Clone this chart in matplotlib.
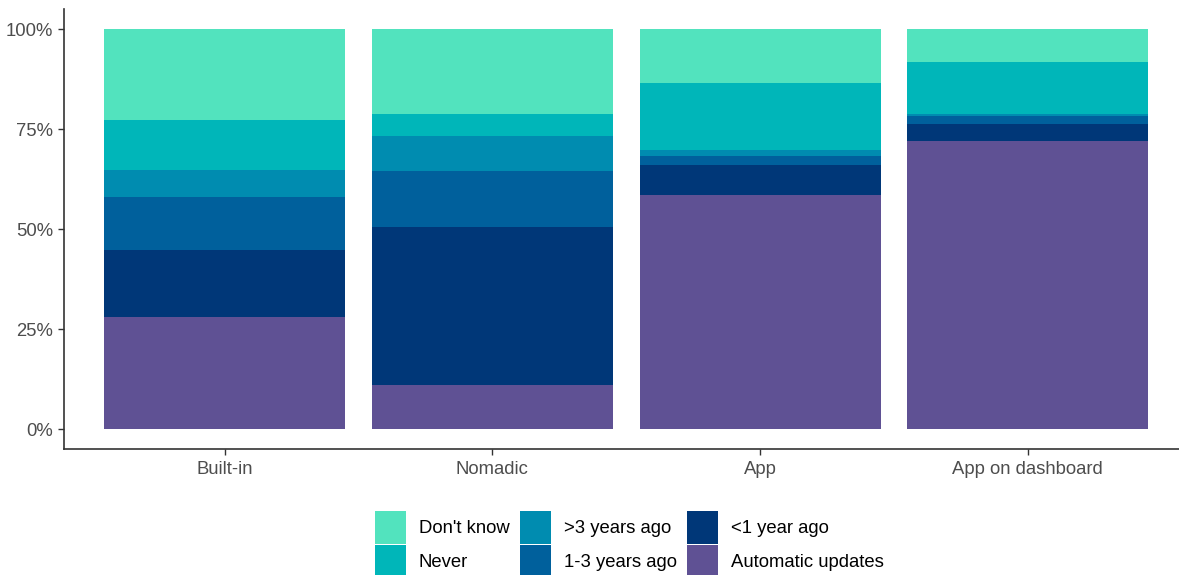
import matplotlib
matplotlib.use("Agg")
import matplotlib.pyplot as plt
from matplotlib.patches import Patch
import numpy as np

plt.rcParams["font.family"] = ["Liberation Sans", "DejaVu Sans"]

categories = ["Built-in", "Nomadic", "App", "App on dashboard"]
series_names = ["Automatic updates", "<1 year ago", "1-3 years ago", ">3 years ago", "Never", "Don't know"]
automatic = [28.0, 10.9, 58.5, 72.1]
lt1 = [16.9, 39.6, 7.6, 4.2]
y1_3 = [13.2, 14.1, 2.2, 1.9]
gt3 = [6.8, 8.7, 1.5, 0.7]
never = [12.5, 5.6, 16.7, 12.9]
dont_know = [22.6, 21.1, 13.5, 8.2]
colors = ["#5F5194", "#003778", "#00609C", "#008CB0", "#00B6B9", "#52E3BE"]
yticks = [0, 25, 50, 75, 100]
ytick_labels = ["0%", "25%", "50%", "75%", "100%"]

series = [automatic, lt1, y1_3, gt3, never, dont_know]

fig = plt.figure(figsize=(11.79, 5.75), dpi=100)
ax = fig.add_axes([64/1179, 1-449/575, 1-64/1179, (449-9.35)/575])

x = np.arange(1, len(categories)+1)
bottom = np.zeros(len(categories))
for name, vals, c in zip(series_names, series, colors):
    v = np.array(vals)
    ax.bar(x, v, width=0.9, bottom=bottom, color=c, linewidth=0)
    bottom += v

ax.set_xlim(0.4, 4.565)
ax.set_ylim(-5, 105)
ax.set_xticks(x)
ax.set_xticklabels(categories, fontsize=13.3, color="#4D4D4D")
ax.set_yticks(yticks)
ax.set_yticklabels(ytick_labels, fontsize=13.3, color="#4D4D4D")
for s in ["top", "right"]:
    ax.spines[s].set_visible(False)
for s in ["left", "bottom"]:
    ax.spines[s].set_color("#333333")
    ax.spines[s].set_linewidth(1.2)
ax.tick_params(axis="both", color="#333333", length=4, width=1, pad=4)
ax.tick_params(axis="x", pad=5)

order = ["Don't know", "Never", ">3 years ago", "1-3 years ago", "<1 year ago", "Automatic updates"]
cmap = dict(zip(series_names, colors))
handles = [Patch(facecolor=cmap[n], edgecolor="none", label=n) for n in order]
fig.legend(handles=handles, loc="upper left", bbox_to_anchor=(375/1179, 1-511/575),
           ncol=3, frameon=False, fontsize=13.3, handlelength=1.68, handleheight=2.33,
           handletextpad=0.7, columnspacing=0.55, labelspacing=0.1, borderpad=0,
           borderaxespad=0)

fig.savefig("out.png", dpi=100)
